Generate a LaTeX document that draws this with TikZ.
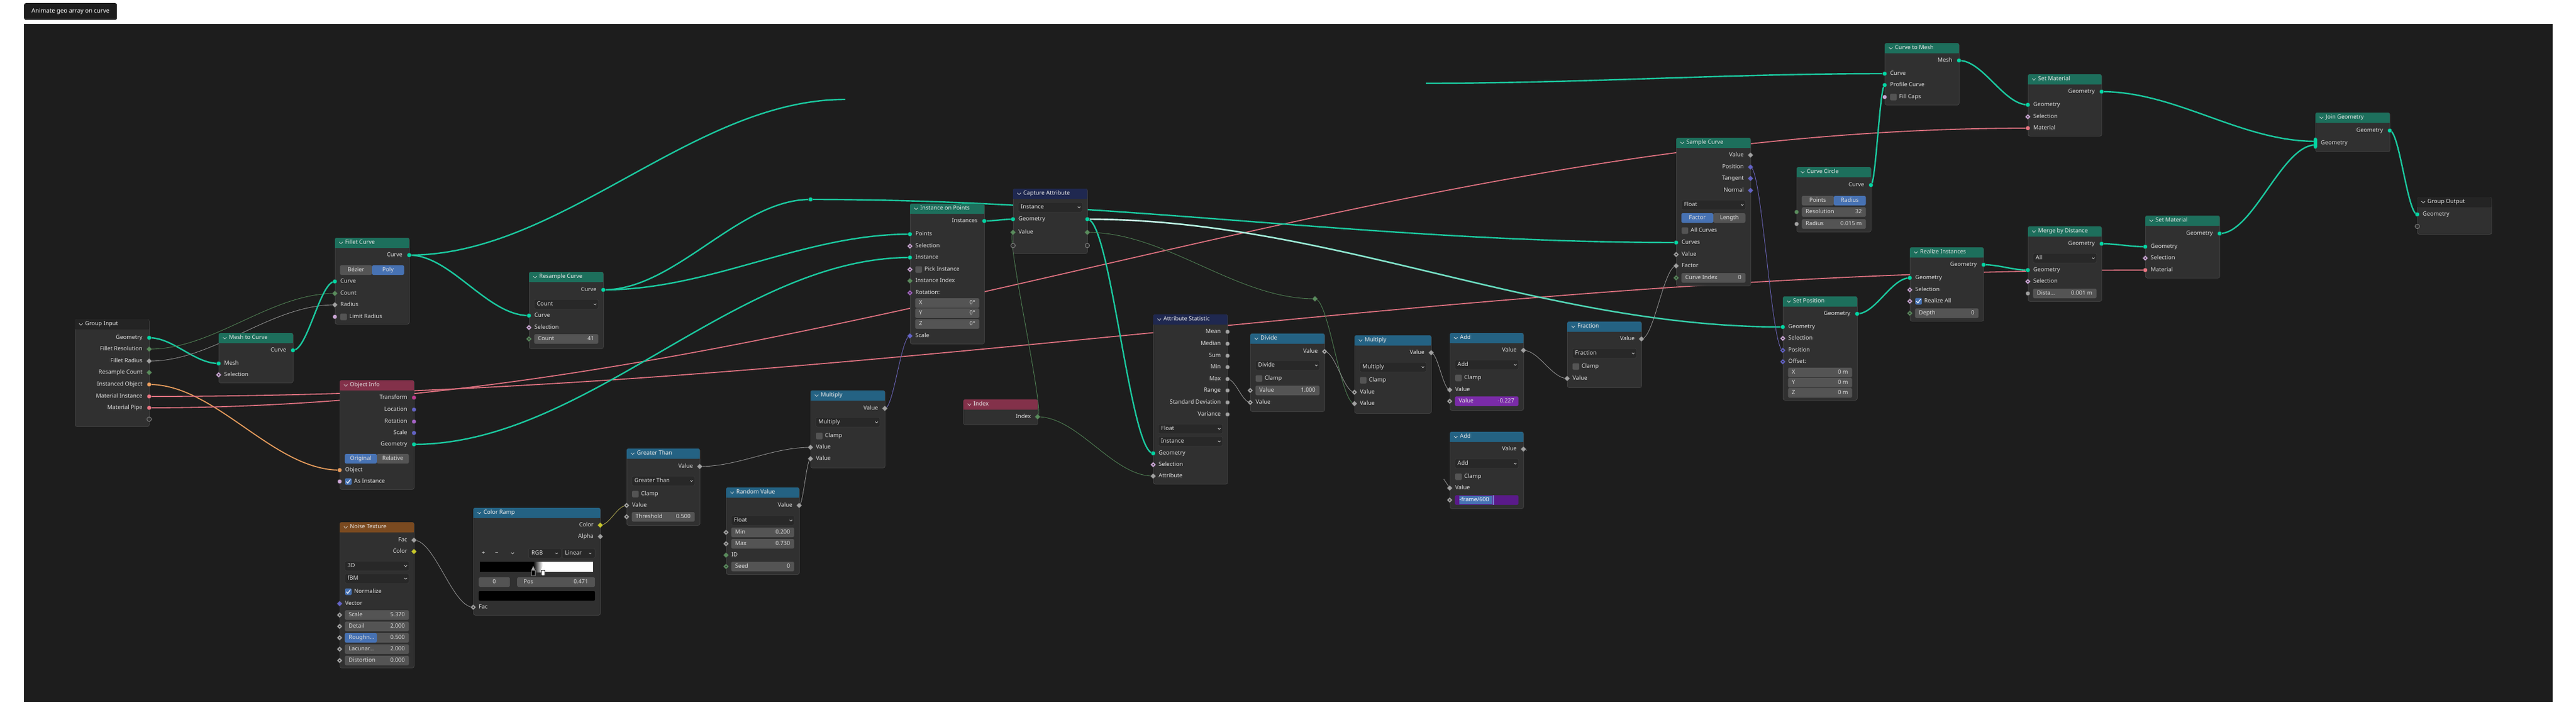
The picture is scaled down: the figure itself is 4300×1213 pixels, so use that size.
\documentclass[tikz,border=0pt]{standalone}
\usepackage{fontspec}
\setmainfont{Noto Sans}
\usetikzlibrary{positioning, backgrounds, calc, shapes.geometric, fadings}
\usepackage{xcolor}
\definecolor{panel-bg}{HTML}{1D1D1D}
\definecolor{node-body}{HTML}{303030}
\definecolor{hdr-geo}{HTML}{1D6F5C}
\definecolor{hdr-input}{HTML}{83314A}
\definecolor{hdr-conv}{HTML}{246283}
\definecolor{hdr-attr}{HTML}{1F2850}
\definecolor{hdr-tex}{HTML}{7A4A20}
\definecolor{hdr-group}{HTML}{242424}
\definecolor{lbl-text}{HTML}{DCDCDC}
\definecolor{ttl-text}{HTML}{E8E8E8}
\definecolor{c-geo}{HTML}{00D6A3}
\definecolor{c-float}{HTML}{A1A1A1}
\definecolor{c-int}{HTML}{598C5C}
\definecolor{c-bool}{HTML}{CCA6D6}
\definecolor{c-vec}{HTML}{6363C7}
\definecolor{c-rot}{HTML}{A663C7}
\definecolor{c-mat}{HTML}{EB7582}
\definecolor{c-obj}{HTML}{ED9E5C}
\definecolor{c-col}{HTML}{C7C729}
\definecolor{c-mtx}{HTML}{C43B8F}
\definecolor{empty-sock}{HTML}{8A8A8A}
\definecolor{w-field}{HTML}{545454}
\definecolor{w-drop}{HTML}{282828}
\definecolor{w-dropline}{HTML}{3D3D3D}
\definecolor{w-active}{HTML}{4772B3}
\definecolor{w-driver}{HTML}{7A2BA8}
\definecolor{w-drvedit}{HTML}{5A1A8A}
\definecolor{l-geo}{HTML}{1BC79E}
\definecolor{l-geohi}{HTML}{DDF7EF}
\definecolor{l-mat}{HTML}{D96F7D}
\definecolor{l-obj}{HTML}{E39A5B}
\definecolor{l-float}{HTML}{8E8E8E}
\definecolor{l-int}{HTML}{4F7F53}
\definecolor{l-vec}{HTML}{6A64B8}
\definecolor{l-col}{HTML}{A9A24E}
\definecolor{l-sel}{HTML}{8FB8FF}

\tikzset{
  nbody/.style={draw=black!70, fill=node-body, rounded corners=3pt, anchor=north west, inner sep=0pt, line width=0.6pt},
  lbl/.style={text=lbl-text, font=\fontsize{9.5}{11}\selectfont, inner sep=0pt, text height=6.8pt, text depth=2pt},
  ttl/.style={lbl, text=ttl-text},
  titlebox/.style={rectangle, rounded corners=3pt, fill=panel-bg, text=white, font=\fontsize{10}{12}\selectfont, inner sep=0pt},
  chev/.style={draw=lbl-text, line width=0.7pt},
  sock/.style={circle, draw=black!80, line width=0.5pt, fill=#1, minimum size=7.5pt, inner sep=0pt},
  fsock/.style={diamond, draw=black!80, line width=0.5pt, fill=#1, minimum size=9.5pt, inner sep=0pt},
  dsock/.style={fsock=#1, path picture={\fill[black!85] (path picture bounding box.center) circle (1.4pt);}},
  esock/.style={circle, draw=empty-sock, line width=0.8pt, fill=node-body, minimum size=7.5pt, inner sep=0pt},
  msock/.style={rectangle, rounded corners=3pt, draw=black!80, fill=c-geo, minimum width=6pt, minimum height=19pt, inner sep=0pt},
  ddbx/.style={rectangle, rounded corners=2.5pt, fill=w-drop, draw=w-dropline, line width=0.5pt, minimum height=16pt, inner sep=0pt},
  fbx/.style={rectangle, rounded corners=2.5pt, fill=w-field, minimum height=16pt, inner sep=0pt},
  drvbx/.style={fbx, fill=w-driver},
  cbx/.style={rectangle, rounded corners=1.5pt, fill=w-field, minimum size=11pt, inner sep=0pt},
  noodle/.style={to path={let \p1=(\tikztostart), \p2=(\tikztotarget), \n1={max(0.35*abs(\x2-\x1),6)} in .. controls (\x1+\n1,\y1) and (\x2-\n1,\y2) .. (\p2)}},
  lgeo/.style={draw=l-geo, line width=2.4pt},
  lgeohi/.style={draw=l-geohi, line width=2.4pt, path fading=east},
  lmat/.style={draw=l-mat, line width=1.8pt},
  lobj/.style={draw=l-obj, line width=1.8pt},
  lflt/.style={draw=l-float, line width=0.9pt},
  lint/.style={draw=l-int, line width=0.9pt},
  lvec/.style={draw=l-vec, line width=0.9pt},
  lcol/.style={draw=l-col, line width=0.9pt},
}

% node frame: name, left, top, right, bottom, header colour, title
\newcommand{\bnode}[7]{%
  \xdef\nL{#2}\xdef\nR{#4}%
  \node[nbody, minimum width=#4-#2, minimum height=#5-#3] (#1) at (#2,#3) {};
  \fill[#6, rounded corners=3pt] (#2,#3) rectangle (#4,#3+17);
  \fill[#6] (#2,#3+9) rectangle (#4,#3+17);
  \draw[chev] (#2+7,#3+7) -- (#2+10,#3+10) -- (#2+13,#3+7);
  \node[ttl, anchor=west] (#1-t) at (#2+17,#3+8.5) {#7};
}
\newcommand{\orow}[4]{%
  \node[lbl, anchor=east] (#4-l) at (\nR-11,#1) {#2};
  \node[#3] (#4) at (\nR,#1) {};}
\newcommand{\irow}[4]{%
  \node[#3] (#4) at (\nL,#1) {};
  \node[lbl, anchor=west] (#4-l) at (\nL+9,#1) {#2};}
\newcommand{\isock}[3]{\node[#2] (#3) at (\nL,#1) {};}
\newcommand{\ddown}[3]{%
  \node[ddbx, minimum width=\nR-\nL-17, anchor=west] (#1) at (\nL+8.5,#2) {};
  \node[lbl, anchor=west] (#1-t) at (\nL+13,#2) {#3};
  \draw[chev] (\nR-16,#2-1) -- ++(2.2,2.2) -- ++(2.2,-2.2);}
\newcommand{\field}[5][fbx]{%
  \node[#1, minimum width=\nR-\nL-17, anchor=west] (#2) at (\nL+8.5,#3) {};
  \node[lbl, anchor=west] (#2-l) at (\nL+15,#3) {#4};
  \node[lbl, anchor=east] (#2-v) at (\nR-15,#3) {#5};}
\newcommand{\cbox}[3]{%
  \node[cbx] (#1) at (\nL+14.5,#2) {};
  \node[lbl, anchor=west] (#1-l) at (\nL+24,#2) {#3};}
\newcommand{\cboxon}[3]{%
  \node[cbx, fill=w-active] (#1) at (\nL+14.5,#2) {};
  \draw[white, line width=1.1pt] (\nL+11,#2) -- (\nL+13.5,#2+2.8) -- (\nL+18,#2-3.5);
  \node[lbl, anchor=west] (#1-l) at (\nL+24,#2) {#3};}
\newcommand{\toggle}[5]{%
  \pgfmathsetmacro\tgmid{(\nL+\nR)/2}%
  \ifnum#5=1 \def\tgA{w-active}\def\tgB{w-field}\else\def\tgA{w-field}\def\tgB{w-active}\fi
  \fill[\tgA, rounded corners=2.5pt] (\nL+8.5,#2-8) rectangle (\tgmid,#2+8);
  \fill[\tgB, rounded corners=2.5pt] (\tgmid,#2-8) rectangle (\nR-8.5,#2+8);
  \node[lbl] (#1-a) at ({(\nL+8.5+\tgmid)/2},#2) {#3};
  \node[lbl] (#1-b) at ({(\tgmid+\nR-8.5)/2},#2) {#4};}

\begin{document}
\begin{tikzpicture}[x=1pt, y=-1pt]
\useasboundingbox (0,0) rectangle (4300,1213);

\begin{scope}[on background layer]
\fill[panel-bg] (40,40) rectangle (4261,1172);
\end{scope}
\node[titlebox, anchor=north west, minimum width=155, minimum height=28] (title) at (40,5) {Animate geo array on curve};

% group input
\bnode{gi}{125}{533}{249}{712}{hdr-group}{Group Input}
\orow{564}{Geometry}{sock=c-geo}{gi-geo}
\orow{583}{Fillet Resolution}{fsock=c-int}{gi-fres}
\orow{603}{Fillet Radius}{fsock=c-float}{gi-frad}
\orow{622}{Resample Count}{fsock=c-int}{gi-rcount}
\orow{642}{Instanced Object}{sock=c-obj}{gi-obj}
\orow{662}{Material Instance}{sock=c-mat}{gi-mati}
\orow{681}{Material Pipe}{sock=c-mat}{gi-matp}
\node[esock] (gi-empty) at (249,700) {};

\bnode{m2c}{365}{556}{489}{639}{hdr-geo}{Mesh to Curve}
\orow{585}{Curve}{sock=c-geo}{m2c-out}
\irow{607}{Mesh}{sock=c-geo}{m2c-mesh}
\irow{626}{Selection}{dsock=c-bool}{m2c-sel}

\bnode{fc}{559}{397}{683}{541}{hdr-geo}{Fillet Curve}
\orow{426}{Curve}{sock=c-geo}{fc-out}
\toggle{fc-mode}{451}{Bézier}{Poly}{2}
\irow{470}{Curve}{sock=c-geo}{fc-curve}
\irow{490}{Count}{fsock=c-int}{fc-count}
\irow{509}{Radius}{fsock=c-float}{fc-rad}
\isock{529}{sock=c-bool}{fc-limit}\cbox{fc-limitbox}{529}{Limit Radius}

\bnode{oi}{567}{635}{691}{817}{hdr-input}{Object Info}
\orow{664}{Transform}{sock=c-mtx}{oi-tr}
\orow{684}{Location}{sock=c-vec}{oi-loc}
\orow{704}{Rotation}{sock=c-rot}{oi-rot}
\orow{723}{Scale}{sock=c-vec}{oi-scale}
\orow{742}{Geometry}{sock=c-geo}{oi-geo}
\toggle{oi-mode}{766}{Original}{Relative}{1}
\irow{785}{Object}{sock=c-obj}{oi-obj}
\isock{804}{sock=c-bool}{oi-asi}\cboxon{oi-asibox}{804}{As Instance}

\bnode{rc}{883}{454}{1007}{582}{hdr-geo}{Resample Curve}
\orow{484}{Curve}{sock=c-geo}{rc-out}
\ddown{rc-mode}{508}{Count}
\irow{527}{Curve}{sock=c-geo}{rc-curve}
\irow{547}{Selection}{dsock=c-bool}{rc-sel}
\isock{566}{dsock=c-int}{rc-count}\field{rc-countf}{566}{Count}{41}

% noise to scale
\bnode{nt}{567}{872}{691}{1115}{hdr-tex}{Noise Texture}
\orow{902}{Fac}{fsock=c-float}{nt-fac}
\orow{921}{Color}{fsock=c-col}{nt-col}
\ddown{nt-dim}{945}{3D}
\ddown{nt-type}{966}{fBM}
\cboxon{nt-norm}{988}{Normalize}
\irow{1008}{Vector}{fsock=c-vec}{nt-vec}
\isock{1027}{dsock=c-float}{nt-scale}\field{nt-scalef}{1027}{Scale}{5.370}
\isock{1046}{dsock=c-float}{nt-detail}\field{nt-detailf}{1046}{Detail}{2.000}
\isock{1065}{dsock=c-float}{nt-rough}
\node[fbx, minimum width=107, anchor=west] (nt-roughf) at (575.5,1065) {};
\fill[w-active, rounded corners=2.5pt] (575.5,1057) rectangle (629,1073);
\node[lbl, anchor=west] (nt-roughf-l) at (582,1065) {Roughn…};
\node[lbl, anchor=east] (nt-roughf-v) at (676,1065) {0.500};
\isock{1084}{dsock=c-float}{nt-lac}\field{nt-lacf}{1084}{Lacunar…}{2.000}
\isock{1103}{dsock=c-float}{nt-dist}\field{nt-distf}{1103}{Distortion}{0.000}

\bnode{cr}{790}{848}{1002}{1027}{hdr-conv}{Color Ramp}
\orow{877}{Color}{fsock=c-col}{cr-col}
\orow{896}{Alpha}{fsock=c-float}{cr-alpha}
\node[lbl] (cr-add) at (807,924) {+};
\node[lbl] (cr-del) at (829,924) {−};
\draw[chev] (853,922.5) -- ++(2.5,2.5) -- ++(2.5,-2.5);
\node[ddbx, minimum width=55, anchor=west] (cr-rgb) at (882,924) {};
\node[lbl, anchor=west] (cr-rgb-t) at (887,924) {RGB};
\draw[chev] (927,923) -- ++(2,2) -- ++(2,-2);
\node[ddbx, minimum width=55, anchor=west] (cr-lin) at (938,924) {};
\node[lbl, anchor=west] (cr-lin-t) at (943,924) {Linear};
\draw[chev] (983,923) -- ++(2,2) -- ++(2,-2);
\fill[black] (801,938) rectangle (890,955);
\shade[left color=black, right color=white] (890,938) rectangle (906,955);
\fill[white] (906,938) rectangle (990,955);
\filldraw[fill=black, draw=gray] (887,952) rectangle (893,961);
\fill[gray!70] (887,952) -- (890,945) -- (893,952) -- cycle;
\filldraw[fill=white, draw=black] (903,952) rectangle (909,961);
\fill[white] (903,952) -- (906,945) -- (909,952) -- cycle;
\node[fbx, minimum width=52, anchor=west] (cr-stop) at (799,972) {};
\node[lbl] (cr-stop-t) at (825,972) {0};
\node[fbx, minimum width=130, anchor=west] (cr-pos) at (863,972) {};
\node[lbl, anchor=west] (cr-pos-l) at (874,972) {Pos};
\node[lbl, anchor=east] (cr-pos-v) at (982,972) {0.471};
\node[rectangle, rounded corners=2pt, fill=black, minimum width=194, minimum height=16, inner sep=0pt, anchor=west] (cr-swatch) at (799,995) {};
\irow{1014}{Fac}{dsock=c-float}{cr-fac}

\bnode{gt}{1046}{749}{1168}{877}{hdr-conv}{Greater Than}
\orow{779}{Value}{fsock=c-float}{gt-out}
\ddown{gt-op}{803}{Greater Than}
\cbox{gt-clamp}{825}{Clamp}
\irow{844}{Value}{dsock=c-float}{gt-in}
\isock{863}{dsock=c-float}{gt-th}\field{gt-thf}{863}{Threshold}{0.500}

\bnode{rv}{1212}{814}{1334}{959}{hdr-conv}{Random Value}
\orow{844}{Value}{fsock=c-float}{rv-out}
\ddown{rv-type}{869}{Float}
\isock{889}{dsock=c-float}{rv-min}\field{rv-minf}{889}{Min}{0.200}
\isock{908}{dsock=c-float}{rv-max}\field{rv-maxf}{908}{Max}{0.730}
\irow{927}{ID}{fsock=c-int}{rv-id}
\isock{946}{dsock=c-int}{rv-seed}\field{rv-seedf}{946}{Seed}{0}

\bnode{mul1}{1353}{652}{1477}{781}{hdr-conv}{Multiply}
\orow{682}{Value}{fsock=c-float}{mul1-out}
\ddown{mul1-op}{705}{Multiply}
\cbox{mul1-clamp}{728}{Clamp}
\irow{747}{Value}{fsock=c-float}{mul1-a}
\irow{766}{Value}{fsock=c-float}{mul1-b}

% instancing
\bnode{iop}{1519}{340}{1643}{574}{hdr-geo}{Instance on Points}
\orow{369}{Instances}{sock=c-geo}{iop-out}
\irow{391}{Points}{sock=c-geo}{iop-pts}
\irow{411}{Selection}{dsock=c-bool}{iop-sel}
\irow{430}{Instance}{sock=c-geo}{iop-inst}
\isock{450}{dsock=c-bool}{iop-pick}\cbox{iop-pickbox}{450}{Pick Instance}
\irow{469}{Instance Index}{fsock=c-int}{iop-idx}
\irow{489}{Rotation:}{dsock=c-rot}{iop-rot}
\field{iop-x}{506}{X}{0°}
\field{iop-y}{523}{Y}{0°}
\field{iop-z}{541}{Z}{0°}
\irow{561}{Scale}{fsock=c-vec}{iop-scale}

\bnode{ca}{1691}{315}{1815}{423}{hdr-attr}{Capture Attribute}
\ddown{ca-dom}{346}{Instance}
\irow{366}{Geometry}{sock=c-geo}{ca-gin}
\node[sock=c-geo] (ca-gout) at (\nR,366) {};
\irow{388}{Value}{fsock=c-int}{ca-vin}
\node[fsock=c-int] (ca-vout) at (\nR,388) {};
\node[esock] (ca-ein) at (\nL,410) {};
\node[esock] (ca-eout) at (\nR,410) {};

\bnode{idx}{1608}{667}{1732}{709}{hdr-input}{Index}
\orow{696}{Index}{fsock=c-int}{idx-out}

\bnode{as}{1925}{525}{2049}{808}{hdr-attr}{Attribute Statistic}
\orow{554}{Mean}{sock=c-float}{as-mean}
\orow{574}{Median}{sock=c-float}{as-median}
\orow{594}{Sum}{sock=c-float}{as-sum}
\orow{613}{Min}{sock=c-float}{as-min}
\orow{633}{Max}{sock=c-float}{as-max}
\orow{652}{Range}{sock=c-float}{as-range}
\orow{672}{Standard Deviation}{sock=c-float}{as-std}
\orow{692}{Variance}{sock=c-float}{as-var}
\ddown{as-type}{716}{Float}
\ddown{as-dom}{737}{Instance}
\irow{757}{Geometry}{sock=c-geo}{as-geo}
\irow{776}{Selection}{dsock=c-bool}{as-sel}
\irow{795}{Attribute}{fsock=c-float}{as-attr}

\bnode{div}{2087}{557}{2211}{687}{hdr-conv}{Divide}
\orow{587}{Value}{dsock=c-float}{div-out}
\ddown{div-op}{610}{Divide}
\cbox{div-clamp}{632}{Clamp}
\isock{652}{dsock=c-float}{div-a}\field{div-af}{652}{Value}{1.000}
\irow{672}{Value}{dsock=c-float}{div-b}

\bnode{mul2}{2261}{560}{2389}{690}{hdr-conv}{Multiply}
\orow{589}{Value}{fsock=c-float}{mul2-out}
\ddown{mul2-op}{613}{Multiply}
\cbox{mul2-clamp}{635}{Clamp}
\irow{655}{Value}{dsock=c-float}{mul2-a}
\irow{674}{Value}{fsock=c-float}{mul2-b}

\bnode{add1}{2420}{556}{2543}{685}{hdr-conv}{Add}
\orow{585}{Value}{fsock=c-float}{add1-out}
\ddown{add1-op}{609}{Add}
\cbox{add1-clamp}{631}{Clamp}
\irow{651}{Value}{fsock=c-float}{add1-a}
\isock{670}{dsock=c-float}{add1-b}\field[drvbx]{add1-bf}{670}{Value}{-0.227}

\bnode{add2}{2420}{721}{2543}{849}{hdr-conv}{Add}
\orow{750}{Value}{fsock=c-float}{add2-out}
\ddown{add2-op}{774}{Add}
\cbox{add2-clamp}{796}{Clamp}
\irow{815}{Value}{fsock=c-float}{add2-a}
\isock{835}{dsock=c-float}{add2-b}
\node[fbx, fill=w-drvedit, minimum width=106, anchor=west] (add2-bf) at (2428.5,835) {};
\fill[w-active] (2436,828) rectangle (2491,842);
\node[lbl, anchor=west, text=white] (add2-bf-t) at (2436,835) {-frame/600};
\draw[l-sel, line width=1pt] (2492,827) -- (2492,843);

\bnode{fr}{2616}{537}{2740}{647}{hdr-conv}{Fraction}
\orow{566}{Value}{fsock=c-float}{fr-out}
\ddown{fr-op}{590}{Fraction}
\cbox{fr-clamp}{612}{Clamp}
\irow{632}{Value}{fsock=c-float}{fr-in}

% curve sampling
\bnode{sc}{2798}{230}{2922}{477}{hdr-geo}{Sample Curve}
\orow{259}{Value}{fsock=c-float}{sc-val}
\orow{279}{Position}{fsock=c-vec}{sc-pos}
\orow{298}{Tangent}{fsock=c-vec}{sc-tan}
\orow{318}{Normal}{fsock=c-vec}{sc-nor}
\ddown{sc-type}{342}{Float}
\toggle{sc-mode}{364}{Factor}{Length}{1}
\cbox{sc-all}{385}{All Curves}
\irow{405}{Curves}{sock=c-geo}{sc-curves}
\irow{425}{Value}{dsock=c-float}{sc-vin}
\irow{444}{Factor}{fsock=c-float}{sc-fac}
\isock{464}{dsock=c-int}{sc-ci}\field{sc-cif}{464}{Curve Index}{0}

\bnode{cc}{2999}{279}{3123}{387}{hdr-geo}{Curve Circle}
\orow{309}{Curve}{sock=c-geo}{cc-out}
\toggle{cc-mode}{335}{Points}{Radius}{2}
\isock{354}{sock=c-int}{cc-res}\field{cc-resf}{354}{Resolution}{32}
\isock{374}{sock=c-float}{cc-rad}\field{cc-radf}{374}{Radius}{0.015 m}

\bnode{sp}{2976}{495}{3100}{668}{hdr-geo}{Set Position}
\orow{524}{Geometry}{sock=c-geo}{sp-out}
\irow{546}{Geometry}{sock=c-geo}{sp-geo}
\irow{565}{Selection}{dsock=c-bool}{sp-sel}
\irow{585}{Position}{dsock=c-vec}{sp-pos}
\irow{604}{Offset:}{dsock=c-vec}{sp-off}
\field{sp-x}{622}{X}{0 m}
\field{sp-y}{639}{Y}{0 m}
\field{sp-z}{656}{Z}{0 m}

\bnode{c2m}{3146}{72}{3270}{175}{hdr-geo}{Curve to Mesh}
\orow{101}{Mesh}{sock=c-geo}{c2m-out}
\irow{123}{Curve}{sock=c-geo}{c2m-curve}
\irow{142}{Profile Curve}{sock=c-geo}{c2m-prof}
\isock{162}{sock=c-bool}{c2m-caps}\cbox{c2m-capsbox}{162}{Fill Caps}

\bnode{sm1}{3385}{124}{3508}{227}{hdr-geo}{Set Material}
\orow{153}{Geometry}{sock=c-geo}{sm1-out}
\irow{175}{Geometry}{sock=c-geo}{sm1-geo}
\irow{195}{Selection}{dsock=c-bool}{sm1-sel}
\irow{214}{Material}{sock=c-mat}{sm1-mat}

\bnode{ri}{3188}{413}{3311}{536}{hdr-geo}{Realize Instances}
\orow{442}{Geometry}{sock=c-geo}{ri-out}
\irow{464}{Geometry}{sock=c-geo}{ri-geo}
\irow{484}{Selection}{dsock=c-bool}{ri-sel}
\isock{503}{dsock=c-bool}{ri-all}\cboxon{ri-allbox}{503}{Realize All}
\isock{523}{dsock=c-int}{ri-depth}\field{ri-depthf}{523}{Depth}{0}

\bnode{md}{3385}{378}{3508}{503}{hdr-geo}{Merge by Distance}
\orow{407}{Geometry}{sock=c-geo}{md-out}
\ddown{md-mode}{431}{All}
\irow{451}{Geometry}{sock=c-geo}{md-geo}
\irow{470}{Selection}{dsock=c-bool}{md-sel}
\isock{490}{sock=c-float}{md-dist}\field{md-distf}{490}{Dista…}{0.001 m}

\bnode{sm2}{3581}{360}{3705}{464}{hdr-geo}{Set Material}
\orow{390}{Geometry}{sock=c-geo}{sm2-out}
\irow{412}{Geometry}{sock=c-geo}{sm2-geo}
\irow{431}{Selection}{dsock=c-bool}{sm2-sel}
\irow{451}{Material}{sock=c-mat}{sm2-mat}

\bnode{jg}{3865}{188}{3989}{253}{hdr-geo}{Join Geometry}
\orow{218}{Geometry}{sock=c-geo}{jg-out}
\irow{239}{Geometry}{msock}{jg-in}

\bnode{go}{4035}{329}{4159}{391}{hdr-group}{Group Output}
\irow{358}{Geometry}{sock=c-geo}{go-geo}
\node[esock] (go-empty) at (\nL,378) {};

% reroutes and loose ends
\node[sock=c-geo] (rr-curve) at (1353,333) {};
\node[fsock=c-int] (rr-idx) at (2195,499) {};
\coordinate (fc-end) at (1411,166);
\coordinate (c2m-start) at (2380,139);
\coordinate (add2-stubin) at (2410,800);
\coordinate (add2-stubout) at (2549,752);

% links
\begin{scope}[on background layer]
\draw[lgeo] (gi-geo.center) to[noodle] (m2c-mesh.center);
\draw[lint] (gi-fres.center) to[noodle] (fc-count.center);
\draw[lflt] (gi-frad.center) to[noodle] (fc-rad.center);
\draw[lobj] (gi-obj.center) to[noodle] (oi-obj.center);
\draw[lmat] (gi-mati.center) to[noodle] (sm2-mat.center);
\draw[lmat] (gi-matp.center) to[noodle] (sm1-mat.center);
\draw[lgeo] (m2c-out.center) to[noodle] (fc-curve.center);
\draw[lgeo] (fc-out.center) to[noodle] (rc-curve.center);
\draw[lgeo] (fc-out.center) to[noodle] (fc-end);
\draw[lgeo] (rc-out.center) to[noodle] (iop-pts.center);
\draw[lgeo] (rc-out.center) to[noodle] (rr-curve.center);
\draw[lgeo] (rr-curve.center) to[noodle] (sc-curves.center);
\draw[lgeo] (oi-geo.center) to[noodle] (iop-inst.center);
\draw[lgeo] (iop-out.center) to[noodle] (ca-gin.center);
\draw[lgeo] (ca-gout.center) to[noodle] (sp-geo.center);
\draw[lgeohi] (ca-gout.center) to[noodle] (sp-geo.center);
\draw[lgeo] (ca-gout.center) to[noodle] (as-geo.center);
\draw[lint] (ca-vout.center) to[noodle] (rr-idx.center);
\draw[lint] (rr-idx.center) to[noodle] (mul2-b.center);
\draw[lint] (idx-out.center) to[noodle] (ca-vin.center);
\draw[lint] (idx-out.center) to[noodle] (as-attr.center);
\draw[lflt] (as-max.center) to[noodle] (div-b.center);
\draw[lflt] (div-out.center) to[noodle] (mul2-a.center);
\draw[lflt] (mul2-out.center) to[noodle] (add1-a.center);
\draw[lflt] (add1-out.center) to[noodle] (fr-in.center);
\draw[lflt] (fr-out.center) to[noodle] (sc-fac.center);
\draw[lvec] (sc-pos.center) to[noodle] (sp-pos.center);
\draw[lgeo] (sp-out.center) to[noodle] (ri-geo.center);
\draw[lgeo] (ri-out.center) to[noodle] (md-geo.center);
\draw[lgeo] (md-out.center) to[noodle] (sm2-geo.center);
\draw[lgeo] (sm2-out.center) to[noodle] ([yshift=-3pt]jg-in.center);
\draw[lgeo] (sm1-out.center) to[noodle] ([yshift=3pt]jg-in.center);
\draw[lgeo] (c2m-out.center) to[noodle] (sm1-geo.center);
\draw[lgeo] (cc-out.center) to[noodle] (c2m-prof.center);
\draw[lgeo] (jg-out.center) to[noodle] (go-geo.center);
\draw[lgeo] (c2m-start) to[noodle] (c2m-curve.center);
\draw[lflt] (nt-fac.center) to[noodle] (cr-fac.center);
\draw[lcol] (cr-col.center) to[noodle] (gt-in.center);
\draw[lflt] (gt-out.center) to[noodle] (mul1-a.center);
\draw[lflt] (rv-out.center) to[noodle] (mul1-b.center);
\draw[lvec] (mul1-out.center) to[noodle] (iop-scale.center);
\draw[lflt] (add2-stubin) -- (add2-a.center);
\draw[lflt] (add2-out.center) -- (add2-stubout);
\end{scope}

\end{tikzpicture}
\end{document}
